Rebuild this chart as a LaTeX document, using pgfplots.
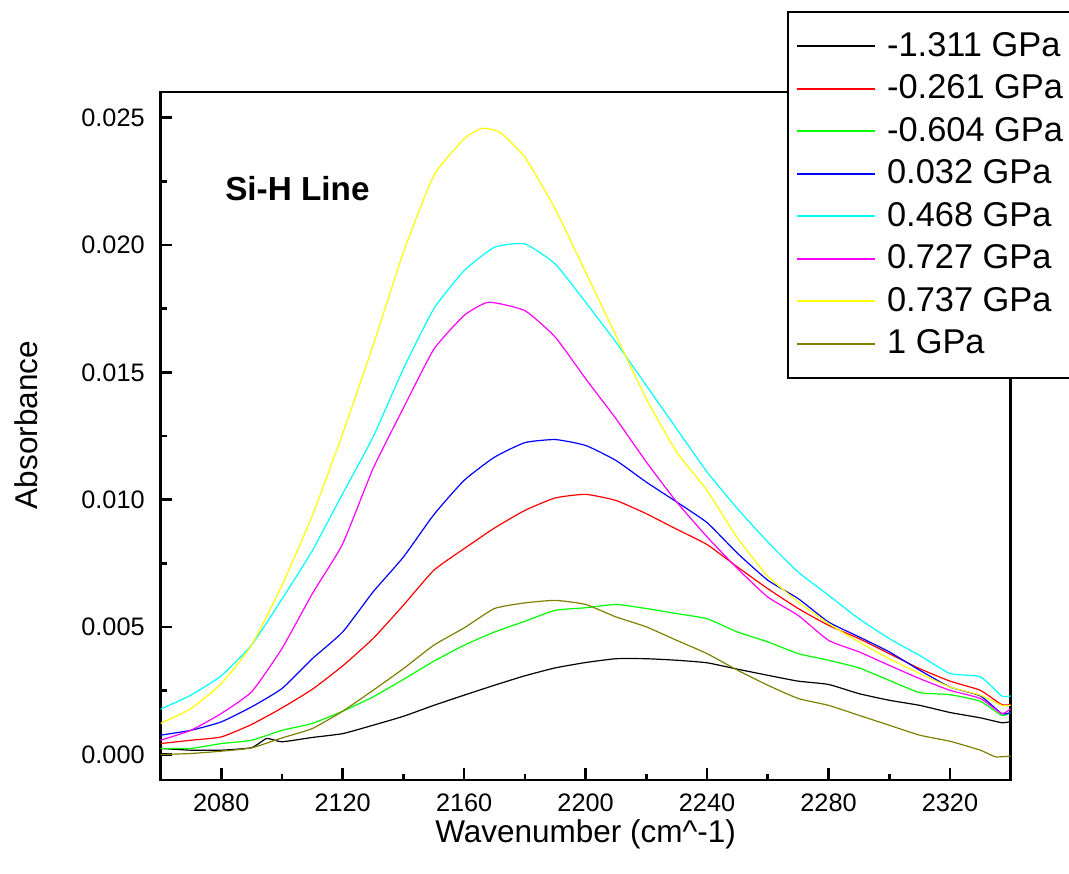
\documentclass[border=0pt]{standalone}
\usepackage{fontspec}
\setmainfont{Liberation Sans}
\usepackage{pgfplots}
\pgfplotsset{compat=1.18}
\definecolor{cBlack}{RGB}{0,0,0}
\definecolor{cRed}{RGB}{255,0,0}
\definecolor{cGreen}{RGB}{0,255,0}
\definecolor{cBlue}{RGB}{0,0,255}
\definecolor{cCyan}{RGB}{0,255,255}
\definecolor{cMagenta}{RGB}{255,0,255}
\definecolor{cYellow}{RGB}{255,255,0}
\definecolor{cOlive}{RGB}{128,128,0}
\begin{document}
\begin{tikzpicture}
\begin{axis}[
  scale only axis, width=425.1pt, height=344pt,
  xmin=2060, xmax=2340, ymin=-0.001, ymax=0.026,
  xtick={2080,2120,2160,2200,2240,2280,2320},
  minor xtick={2100,2140,2180,2220,2260,2300},
  ytick={0,0.005,0.01,0.015,0.02,0.025},
  minor ytick={0.0025,0.0075,0.0125,0.0175,0.0225},
  scaled y ticks=false,
  yticklabel style={inner sep=0pt, xshift=-7.7pt, /pgf/number format/fixed, /pgf/number format/fixed zerofill, /pgf/number format/precision=3},
  xticklabel style={inner sep=0pt, yshift=-6.6pt, /pgf/number format/1000 sep={}},
  /pgf/number format/assume math mode=true,
  tick label style={font=\fontsize{12.65}{15}\selectfont},
  tick pos=left, tick align=inside,
  major tick length=5.8pt, minor tick length=3pt,
  every tick/.style={black, line width=1.35pt},
  axis line style={line width=1.35pt},
  xlabel={Wavenumber (cm\textasciicircum-1)},
  ylabel={Absorbance},
  label style={font=\fontsize{15.75}{18}\selectfont, inner sep=0pt},
  xlabel style={at={(axis description cs:0.5,-0.0785)}, anchor=center},
  ylabel style={at={(axis description cs:-0.1576,0.516)}, anchor=center},
  every axis plot/.append style={line width=0.6pt, smooth, tension=0.3},
  legend cell align=left,
  legend image code/.code={\draw[#1, line width=1pt] (0pt,0pt) -- (39pt,0pt);},
  legend style={at={(rel axis cs:0.737,1.1177)}, anchor=north west,
    draw=black, line width=1pt, fill=white,
    inner xsep=4pt, inner ysep=6.5pt,
    font=\fontsize{17.2}{20.6}\selectfont,
    nodes={inner sep=0pt, text height=15.5pt, text depth=5.75pt},
    column sep=5.5pt, row sep=0pt},
]
\addplot[color=cBlack] coordinates {
(2060,0.00024)(2070,0.00017)(2080,0.00017)(2090,0.00027)(2095,0.00063)(2100,0.00050)
(2110,0.00067)(2120,0.00082)(2130,0.00115)(2140,0.00150)(2150,0.00193)(2160,0.00233)
(2170,0.00272)(2180,0.00309)(2190,0.00340)(2200,0.00361)(2210,0.00376)(2220,0.00376)
(2230,0.00370)(2240,0.00360)(2250,0.00335)(2260,0.00311)(2270,0.00288)(2280,0.00275)
(2290,0.00239)(2300,0.00213)(2310,0.00193)(2320,0.00165)(2330,0.00144)(2337,0.00125)(2340,0.00129)};
\addlegendentry{-1.311 GPa}
\addplot[color=cRed] coordinates {
(2060,0.00043)(2070,0.00056)(2080,0.00069)(2090,0.00118)(2100,0.00183)(2110,0.00256)
(2120,0.00348)(2130,0.00455)(2140,0.00586)(2150,0.00723)(2160,0.00808)(2170,0.00889)
(2180,0.00958)(2190,0.01007)(2200,0.01021)(2210,0.00997)(2220,0.00945)(2230,0.00884)
(2240,0.00824)(2250,0.00736)(2260,0.00651)(2270,0.00573)(2280,0.00507)(2290,0.00455)
(2300,0.00396)(2310,0.00337)(2320,0.00288)(2330,0.00252)(2337,0.00196)(2340,0.00196)};
\addlegendentry{-0.261 GPa}
\addplot[color=cGreen] coordinates {
(2060,0.00024)(2070,0.00024)(2080,0.00043)(2090,0.00056)(2100,0.00095)(2110,0.00122)
(2120,0.00170)(2130,0.00226)(2140,0.00295)(2150,0.00366)(2160,0.00429)(2170,0.00481)
(2180,0.00523)(2190,0.00566)(2200,0.00576)(2210,0.00589)(2220,0.00573)(2230,0.00553)
(2240,0.00533)(2250,0.00481)(2260,0.00442)(2270,0.00396)(2280,0.00370)(2290,0.00340)
(2300,0.00291)(2310,0.00243)(2320,0.00235)(2330,0.00209)(2337,0.00154)(2340,0.00165)};
\addlegendentry{-0.604 GPa}
\addplot[color=cBlue] coordinates {
(2060,0.00076)(2070,0.00095)(2080,0.00128)(2090,0.00187)(2100,0.00259)(2110,0.00376)
(2120,0.00481)(2130,0.00638)(2140,0.00775)(2150,0.00941)(2160,0.01076)(2170,0.01167)
(2180,0.01224)(2190,0.01236)(2200,0.01213)(2210,0.01154)(2220,0.01069)(2230,0.00991)
(2240,0.00910)(2250,0.00790)(2260,0.00684)(2270,0.00612)(2280,0.00520)(2290,0.00462)
(2300,0.00403)(2310,0.00331)(2320,0.00265)(2330,0.00230)(2337,0.00161)(2340,0.00165)};
\addlegendentry{0.032 GPa}
\addplot[color=cCyan] coordinates {
(2060,0.00178)(2070,0.00233)(2080,0.00309)(2090,0.00430)(2100,0.00610)(2110,0.00800)
(2120,0.01024)(2130,0.01246)(2140,0.01514)(2150,0.01749)(2160,0.01899)(2170,0.01991)
(2180,0.02004)(2190,0.01925)(2200,0.01775)(2210,0.01618)(2220,0.01448)(2230,0.01278)
(2240,0.01109)(2250,0.00965)(2260,0.00834)(2270,0.00716)(2280,0.00625)(2290,0.00533)
(2300,0.00455)(2310,0.00389)(2320,0.00318)(2330,0.00305)(2337,0.00230)(2340,0.00230)};
\addlegendentry{0.468 GPa}
\addplot[color=cMagenta] coordinates {
(2060,0.00056)(2070,0.00095)(2080,0.00161)(2090,0.00246)(2100,0.00416)(2110,0.00631)
(2120,0.00827)(2130,0.01122)(2140,0.01360)(2150,0.01590)(2160,0.01723)(2168,0.01775)
(2180,0.01742)(2190,0.01638)(2200,0.01475)(2210,0.01318)(2220,0.01148)(2230,0.00991)
(2240,0.00854)(2250,0.00730)(2260,0.00618)(2270,0.00546)(2280,0.00448)(2290,0.00403)
(2300,0.00350)(2310,0.00298)(2320,0.00252)(2330,0.00220)(2337,0.00161)(2340,0.00180)};
\addlegendentry{0.727 GPa}
\addplot[color=cYellow] coordinates {
(2060,0.00122)(2070,0.00180)(2080,0.00278)(2090,0.00429)(2100,0.00664)(2110,0.00938)
(2120,0.01260)(2130,0.01605)(2140,0.01971)(2150,0.02272)(2160,0.02416)(2166,0.02458)
(2172,0.02440)(2180,0.02344)(2190,0.02141)(2200,0.01893)(2210,0.01644)(2220,0.01396)
(2230,0.01187)(2240,0.01036)(2250,0.00850)(2260,0.00700)(2270,0.00599)(2280,0.00514)
(2290,0.00442)(2300,0.00376)(2310,0.00318)(2320,0.00265)(2330,0.00233)(2337,0.00193)(2340,0.00193)};
\addlegendentry{0.737 GPa}
\addplot[color=cOlive] coordinates {
(2060,0.00000)(2070,0.00004)(2080,0.00013)(2090,0.00026)(2100,0.00065)(2110,0.00102)
(2120,0.00170)(2130,0.00252)(2140,0.00337)(2150,0.00429)(2160,0.00497)(2170,0.00573)
(2180,0.00595)(2190,0.00605)(2200,0.00589)(2210,0.00540)(2220,0.00501)(2230,0.00448)
(2240,0.00396)(2250,0.00331)(2260,0.00272)(2270,0.00220)(2280,0.00193)(2290,0.00154)
(2300,0.00115)(2310,0.00076)(2320,0.00052)(2330,0.00017)(2335,-0.00009)(2340,-0.00006)};
\addlegendentry{1 GPa}
\node[anchor=base west, inner sep=0pt, font=\fontsize{16.65}{20}\selectfont\bfseries] at (axis cs:2081.2,0.02174) {Si-H Line};
\coordinate (O) at (rel axis cs:0,0);
\end{axis}
\pgfresetboundingbox
\path (O) ++(-80.25pt,-46.5pt) rectangle ++(534.5pt,436.5pt);
\end{tikzpicture}
\end{document}
